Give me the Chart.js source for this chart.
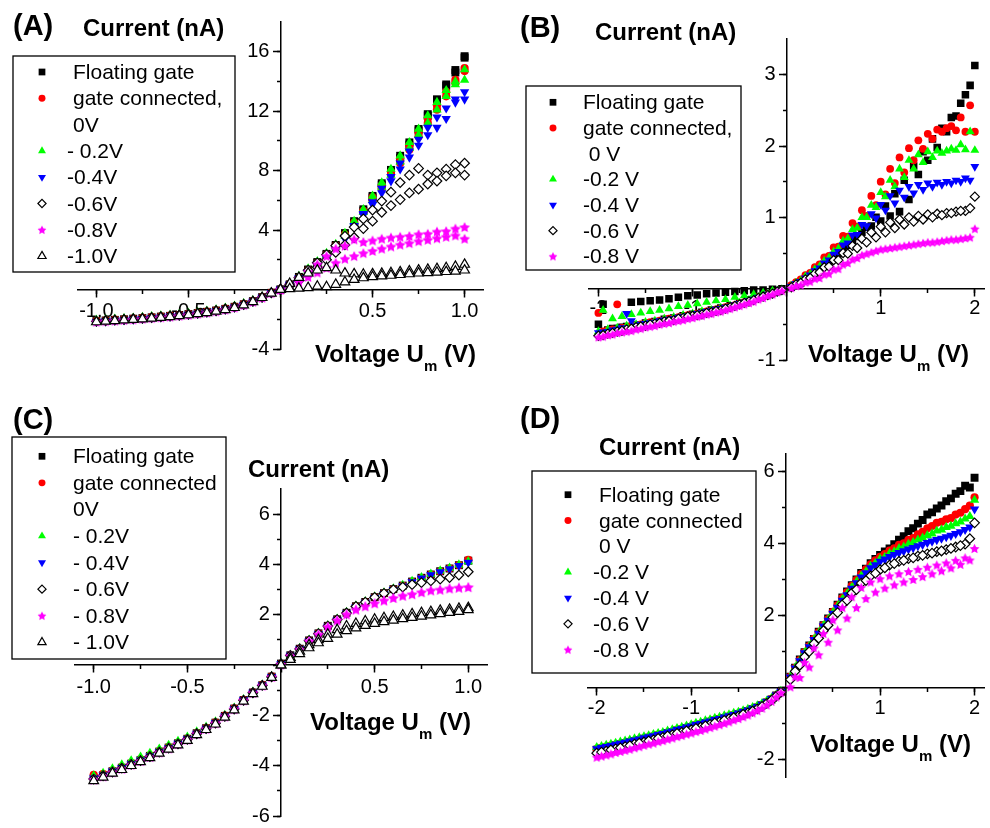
<!DOCTYPE html>
<html>
<head>
<meta charset="utf-8">
<title>Current-voltage curves, panels A-D</title>
<script src="https://cdn.jsdelivr.net/npm/chart.js"></script>
<style>
  html, body { margin: 0; padding: 0; background: #ffffff; overflow: hidden; }
  #wrap { position: relative; width: 990px; height: 828px; }
  #wrap canvas { position: absolute; left: 0; top: 0; }
</style>
</head>
<body>
<div id="wrap">
  <canvas id="panelA" width="990" height="828"></canvas>
  <canvas id="panelB" width="990" height="828"></canvas>
  <canvas id="panelC" width="990" height="828"></canvas>
  <canvas id="panelD" width="990" height="828"></canvas>
</div>
<script>
// ---- voltages (V) ----
const voltsAC_neg = [-1.0, -0.95, -0.9, -0.85, -0.8, -0.75, -0.7, -0.65, -0.6, -0.55, -0.5, -0.45, -0.4, -0.35, -0.3, -0.25, -0.2, -0.15, -0.1, -0.05]
const voltsAC_pos = [0, 0.05, 0.1, 0.15, 0.2, 0.25, 0.3, 0.35, 0.4, 0.45, 0.5, 0.55, 0.6, 0.65, 0.7, 0.75, 0.8, 0.85, 0.9, 0.95, 1.0]
const voltsBD_p1 = [0.1, 0.2, 0.3, 0.4, 0.5, 0.6, 0.7, 0.8, 0.9, 1.0, 1.1, 1.2, 1.3, 1.4, 1.5, 1.6, 1.7, 1.8, 1.9, 2.0]
const voltsBD_p2 = [0.05, 0.15, 0.25, 0.35, 0.45, 0.55, 0.65, 0.75, 0.85, 0.95, 1.05, 1.15, 1.25, 1.35, 1.45, 1.55, 1.65, 1.75, 1.85, 1.95]
const voltsBD_n1 = [-2.0, -1.9, -1.8, -1.7, -1.6, -1.5, -1.4, -1.3, -1.2, -1.1, -1.0, -0.9, -0.8, -0.7, -0.6, -0.5, -0.4, -0.3, -0.2, -0.1]
const voltsBD_n2 = [-1.95, -1.85, -1.75, -1.65, -1.55, -1.45, -1.35, -1.25, -1.15, -1.05, -0.95, -0.85, -0.75, -0.65, -0.55, -0.45, -0.35, -0.25, -0.15, -0.05]

// ---- panel A currents (nA) ----
const A_float_neg = [-2.12, -2.08, -2.04, -2.0, -1.96, -1.92, -1.87, -1.82, -1.77, -1.71, -1.65, -1.58, -1.5, -1.41, -1.3, -1.16, -0.99, -0.78, -0.51, -0.22]
const A_float_up = [0, 0.35, 0.85, 1.35, 1.85, 2.4, 3.0, 3.8, 4.6, 5.4, 6.3, 7.15, 8.05, 9.0, 9.9, 10.8, 11.8, 12.8, 13.8, 14.77, 15.7]
const A_float_down = [0, 0.3, 0.8, 1.3, 1.8, 2.35, 2.95, 3.7, 4.5, 5.3, 6.2, 7.05, 7.95, 8.85, 9.75, 10.7, 11.7, 12.7, 13.7, 14.6, 15.6]
const A_conn_neg = [-2.1, -2.07, -2.03, -1.99, -1.95, -1.91, -1.86, -1.81, -1.76, -1.7, -1.64, -1.57, -1.49, -1.4, -1.29, -1.15, -0.98, -0.77, -0.5, -0.21]
const A_conn_up = [0, 0.35, 0.8, 1.3, 1.8, 2.35, 2.95, 3.7, 4.5, 5.3, 6.2, 7.0, 7.9, 8.8, 9.7, 10.6, 11.5, 12.4, 13.3, 14.1, 14.9]
const A_conn_down = [0, 0.3, 0.75, 1.25, 1.75, 2.3, 2.9, 3.6, 4.4, 5.2, 6.0, 6.8, 7.7, 8.5, 9.4, 10.3, 11.2, 12.1, 13.0, 13.9, 14.7]
const A_g02_neg = [-2.05, -2.02, -1.98, -1.94, -1.9, -1.86, -1.81, -1.76, -1.71, -1.65, -1.59, -1.52, -1.44, -1.35, -1.24, -1.1, -0.94, -0.73, -0.47, -0.19]
const A_g02_up = [0, 0.4, 0.9, 1.4, 1.9, 2.45, 3.05, 3.8, 4.6, 5.4, 6.3, 7.2, 8.1, 9.0, 9.9, 10.8, 11.7, 12.6, 13.4, 14.0, 14.8]
const A_g02_down = [0, 0.3, 0.8, 1.3, 1.8, 2.3, 2.9, 3.6, 4.4, 5.2, 6.0, 6.9, 7.7, 8.6, 9.5, 10.4, 11.2, 12.1, 13.0, 13.8, 14.1]
const A_b04_neg = [-2.16, -2.12, -2.08, -2.04, -2.0, -1.96, -1.91, -1.86, -1.8, -1.74, -1.68, -1.61, -1.53, -1.44, -1.33, -1.19, -1.02, -0.8, -0.53, -0.23]
const A_b04_up = [0, 0.35, 0.8, 1.2, 1.7, 2.2, 2.8, 3.5, 4.3, 5.1, 5.9, 6.8, 7.6, 8.5, 9.3, 10.1, 10.9, 11.6, 12.2, 12.8, 13.3]
const A_b04_down = [0, 0.3, 0.7, 1.1, 1.6, 2.1, 2.7, 3.4, 4.2, 5.0, 5.7, 6.5, 7.3, 8.1, 8.9, 9.7, 10.4, 10.9, 11.5, 12.6, 12.8]
const A_d06_neg = [-2.14, -2.1, -2.06, -2.02, -1.98, -1.94, -1.89, -1.84, -1.79, -1.73, -1.67, -1.6, -1.52, -1.43, -1.32, -1.18, -1.01, -0.8, -0.53, -0.23]
const A_d06_up = [0, 0.35, 0.8, 1.3, 1.8, 2.35, 2.95, 3.6, 4.2, 4.75, 5.35, 5.95, 6.55, 7.2, 7.7, 8.15, 7.7, 7.85, 8.1, 8.4, 8.5]
const A_d06_down = [0, 0.25, 0.6, 1.0, 1.5, 2.0, 2.5, 3.0, 3.5, 4.1, 4.6, 5.2, 5.65, 6.05, 6.5, 6.75, 7.1, 7.3, 7.65, 7.85, 7.7]
const A_s08_neg = [-2.17, -2.13, -2.09, -2.05, -2.01, -1.97, -1.92, -1.87, -1.82, -1.76, -1.7, -1.63, -1.55, -1.46, -1.35, -1.21, -1.04, -0.82, -0.55, -0.24]
const A_s08_up = [0, 0.3, 0.75, 1.2, 1.7, 2.25, 2.75, 2.95, 3.37, 3.2, 3.3, 3.42, 3.5, 3.55, 3.6, 3.72, 3.75, 3.9, 3.93, 4.1, 4.2]
const A_s08_down = [0, 0.2, 0.5, 0.85, 1.15, 1.46, 1.8, 2.07, 2.25, 2.45, 2.6, 2.75, 2.9, 3.02, 3.12, 3.25, 3.35, 3.45, 3.55, 3.64, 3.42]
const A_t10_neg = [-2.18, -2.14, -2.1, -2.06, -2.02, -1.98, -1.93, -1.88, -1.83, -1.77, -1.71, -1.64, -1.56, -1.47, -1.36, -1.22, -1.05, -0.83, -0.55, -0.25]
const A_t10_up = [0, 0.4, 0.8, 1.1, 1.3, 1.46, 1.3, 1.1, 1.05, 1.02, 1.05, 1.08, 1.12, 1.18, 1.24, 1.3, 1.35, 1.4, 1.46, 1.55, 1.69]
const A_t10_down = [0, 0.05, 0.08, 0.12, 0.22, 0.18, 0.34, 0.5, 0.67, 0.78, 0.85, 0.9, 0.95, 1.0, 1.05, 1.1, 1.13, 1.16, 1.2, 1.22, 1.3]

// ---- panel B currents (nA) ----
const B_float_p1 = [0.05, 0.12, 0.21, 0.32, 0.44, 0.56, 0.68, 0.79, 0.88, 0.95, 1.02, 1.08, 1.25, 1.6, 1.8, 1.98, 2.2, 2.42, 2.72, 3.13]
const B_float_p2 = [0.02, 0.08, 0.16, 0.26, 0.37, 0.49, 0.61, 0.73, 0.86, 1.0, 1.16, 1.33, 1.52, 1.72, 1.92, 2.1, 2.25, 2.4, 2.6, 2.85]
const B_float_n1 = [-0.5, -0.58, -0.56, -0.53, -0.51, -0.48, -0.46, -0.43, -0.41, -0.38, -0.36, -0.33, -0.3, -0.27, -0.24, -0.2, -0.16, -0.12, -0.08, -0.04]
const B_float_n2 = [-0.22, -0.56, -0.54, -0.19, -0.18, -0.17, -0.16, -0.14, -0.12, -0.1, -0.09, -0.07, -0.06, -0.05, -0.04, -0.03, -0.02, -0.02, -0.01, 0.0]
const B_conn_p1 = [0.09, 0.19, 0.3, 0.44, 0.58, 0.74, 0.92, 1.1, 1.3, 1.5, 1.68, 1.84, 1.97, 2.08, 2.17, 2.23, 2.25, 2.22, 2.2, 2.2]
const B_conn_p2 = [0.05, 0.13, 0.22, 0.34, 0.46, 0.59, 0.73, 0.87, 1.02, 1.17, 1.32, 1.48, 1.63, 1.8, 1.96, 2.1, 2.2, 2.28, 2.4, 2.57]
const B_conn_n1 = [-0.34, -0.58, -0.22, -0.54, -0.52, -0.49, -0.47, -0.44, -0.42, -0.39, -0.37, -0.34, -0.31, -0.28, -0.25, -0.21, -0.17, -0.12, -0.08, -0.04]
const B_conn_n2 = [-0.6, -0.57, -0.55, -0.52, -0.5, -0.47, -0.45, -0.42, -0.4, -0.37, -0.35, -0.32, -0.29, -0.26, -0.23, -0.19, -0.15, -0.11, -0.07, -0.02]
const B_g02_p1 = [0.08, 0.17, 0.27, 0.39, 0.52, 0.67, 0.83, 1.0, 1.17, 1.35, 1.52, 1.68, 1.8, 1.88, 1.92, 1.93, 1.93, 1.94, 1.95, 1.94]
const B_g02_p2 = [0.04, 0.11, 0.2, 0.31, 0.43, 0.56, 0.7, 0.85, 1.0, 1.14, 1.29, 1.43, 1.56, 1.68, 1.77, 1.84, 1.9, 1.96, 2.02, 2.2]
const B_g02_n1 = [-0.6, -0.57, -0.55, -0.52, -0.5, -0.47, -0.45, -0.42, -0.4, -0.37, -0.35, -0.32, -0.3, -0.27, -0.24, -0.2, -0.16, -0.12, -0.08, -0.03]
const B_g02_n2 = [-0.3, -0.42, -0.39, -0.36, -0.34, -0.32, -0.3, -0.28, -0.25, -0.23, -0.21, -0.19, -0.17, -0.15, -0.12, -0.1, -0.08, -0.06, -0.03, -0.01]
const B_b04_p1 = [0.07, 0.15, 0.25, 0.36, 0.48, 0.61, 0.75, 0.9, 1.05, 1.18, 1.3, 1.38, 1.43, 1.46, 1.48, 1.49, 1.5, 1.52, 1.55, 1.71]
const B_b04_p2 = [0.03, 0.1, 0.19, 0.29, 0.4, 0.52, 0.64, 0.76, 0.88, 0.99, 1.1, 1.2, 1.28, 1.34, 1.39, 1.43, 1.46, 1.48, 1.5, 1.52]
const B_b04_n1 = [-0.62, -0.6, -0.57, -0.35, -0.52, -0.49, -0.47, -0.44, -0.42, -0.39, -0.37, -0.34, -0.31, -0.28, -0.25, -0.21, -0.17, -0.12, -0.08, -0.04]
const B_b04_n2 = [-0.61, -0.58, -0.55, -0.45, -0.5, -0.48, -0.45, -0.43, -0.4, -0.38, -0.35, -0.32, -0.29, -0.26, -0.23, -0.19, -0.15, -0.11, -0.07, -0.02]
const B_d06_p1 = [0.06, 0.13, 0.21, 0.3, 0.4, 0.5, 0.6, 0.7, 0.79, 0.87, 0.93, 0.97, 1.0, 1.02, 1.04, 1.05, 1.06, 1.08, 1.09, 1.29]
const B_d06_p2 = [0.02, 0.08, 0.15, 0.23, 0.31, 0.4, 0.49, 0.57, 0.65, 0.72, 0.79, 0.85, 0.9, 0.94, 0.97, 1.0, 1.03, 1.06, 1.09, 1.13]
const B_d06_n1 = [-0.66, -0.63, -0.6, -0.57, -0.54, -0.52, -0.49, -0.46, -0.44, -0.41, -0.38, -0.36, -0.33, -0.3, -0.26, -0.22, -0.18, -0.13, -0.09, -0.04]
const B_d06_n2 = [-0.65, -0.62, -0.59, -0.56, -0.53, -0.5, -0.48, -0.45, -0.42, -0.39, -0.37, -0.34, -0.31, -0.28, -0.24, -0.2, -0.16, -0.11, -0.07, -0.02]
const B_s08_p1 = [0.04, 0.09, 0.14, 0.2, 0.27, 0.34, 0.41, 0.47, 0.51, 0.55, 0.57, 0.59, 0.61, 0.63, 0.65, 0.66, 0.68, 0.69, 0.71, 0.84]
const B_s08_p2 = [0.01, 0.05, 0.1, 0.15, 0.21, 0.28, 0.36, 0.43, 0.49, 0.53, 0.56, 0.58, 0.6, 0.62, 0.64, 0.65, 0.67, 0.69, 0.7, 0.72]
const B_s08_n1 = [-0.68, -0.65, -0.62, -0.6, -0.57, -0.54, -0.52, -0.49, -0.46, -0.44, -0.41, -0.38, -0.35, -0.32, -0.28, -0.24, -0.2, -0.15, -0.1, -0.05]
const B_s08_n2 = [-0.67, -0.64, -0.61, -0.59, -0.56, -0.53, -0.5, -0.48, -0.45, -0.42, -0.39, -0.36, -0.33, -0.3, -0.26, -0.22, -0.18, -0.13, -0.08, -0.03]

// ---- panel C currents (nA) ----
const C_float_neg = [-4.5, -4.38, -4.22, -4.08, -3.92, -3.77, -3.61, -3.44, -3.28, -3.11, -2.93, -2.71, -2.51, -2.29, -2.02, -1.73, -1.39, -1.09, -0.8, -0.46]
const C_float_pos = [0.06, 0.39, 0.65, 0.98, 1.26, 1.56, 1.82, 2.08, 2.34, 2.51, 2.7, 2.86, 3.02, 3.16, 3.32, 3.47, 3.6, 3.73, 3.84, 3.97, 4.15]
const C_conn_neg = [-4.36, -4.32, -4.2, -4.06, -3.9, -3.75, -3.59, -3.42, -3.26, -3.1, -2.92, -2.7, -2.5, -2.28, -2.01, -1.72, -1.38, -1.08, -0.79, -0.45]
const C_conn_pos = [0.05, 0.38, 0.65, 0.97, 1.26, 1.55, 1.81, 2.07, 2.33, 2.5, 2.69, 2.85, 3.01, 3.15, 3.31, 3.46, 3.6, 3.72, 3.84, 3.97, 4.18]
const C_g02_neg = [-4.4, -4.3, -4.12, -3.96, -3.8, -3.65, -3.5, -3.33, -3.18, -3.02, -2.86, -2.65, -2.46, -2.25, -1.99, -1.7, -1.36, -1.06, -0.78, -0.44]
const C_g02_pos = [0.06, 0.4, 0.67, 1.0, 1.28, 1.58, 1.84, 2.1, 2.36, 2.53, 2.72, 2.88, 3.04, 3.18, 3.34, 3.49, 3.62, 3.75, 3.86, 3.99, 4.12]
const C_b04_neg = [-4.5, -4.38, -4.22, -4.08, -3.93, -3.78, -3.62, -3.45, -3.29, -3.12, -2.94, -2.72, -2.52, -2.3, -2.03, -1.74, -1.39, -1.09, -0.8, -0.46]
const C_b04_pos = [0.05, 0.38, 0.64, 0.96, 1.24, 1.54, 1.8, 2.06, 2.32, 2.49, 2.68, 2.84, 3.0, 3.14, 3.3, 3.45, 3.58, 3.7, 3.82, 3.95, 4.08]
const C_d06_neg = [-4.53, -4.4, -4.25, -4.1, -3.95, -3.8, -3.64, -3.46, -3.3, -3.13, -2.95, -2.73, -2.53, -2.31, -2.04, -1.75, -1.4, -1.1, -0.81, -0.47]
const C_d06_pos = [0.05, 0.38, 0.64, 0.97, 1.25, 1.55, 1.81, 2.07, 2.33, 2.5, 2.69, 2.85, 3.0, 3.1, 3.2, 3.28, 3.35, 3.42, 3.48, 3.58, 3.71]
const C_s08_neg = [-4.55, -4.42, -4.26, -4.12, -3.96, -3.81, -3.65, -3.47, -3.31, -3.14, -2.96, -2.73, -2.53, -2.31, -2.04, -1.75, -1.4, -1.1, -0.81, -0.47]
const C_s08_pos = [0.03, 0.37, 0.62, 0.95, 1.22, 1.52, 1.78, 2.02, 2.21, 2.34, 2.46, 2.57, 2.67, 2.76, 2.82, 2.9, 2.97, 3.0, 3.05, 3.08, 3.1]
const C_t10_neg = [-4.6, -4.46, -4.3, -4.16, -4.0, -3.85, -3.69, -3.51, -3.35, -3.18, -3.0, -2.77, -2.57, -2.35, -2.08, -1.79, -1.44, -1.14, -0.85, -0.5]
const C_t10_pos = [0, 0.3, 0.55, 0.8, 1.0, 1.22, 1.4, 1.55, 1.65, 1.75, 1.82, 1.88, 1.93, 1.98, 2.03, 2.08, 2.12, 2.17, 2.21, 2.25, 2.28]
const C_t10_back = [0, 0.22, 0.45, 0.68, 0.88, 1.05, 1.22, 1.36, 1.47, 1.57, 1.65, 1.72, 1.78, 1.84, 1.89, 1.94, 1.99, 2.04, 2.09, 2.13, 2.2]

// ---- panel D currents (nA) ----
const D_float_p1 = [0.55, 0.98, 1.35, 1.73, 2.1, 2.5, 2.84, 3.18, 3.45, 3.68, 3.86, 4.1, 4.34, 4.55, 4.8, 4.97, 5.17, 5.38, 5.6, 5.82]
const D_float_p2 = [0.3, 0.78, 1.17, 1.55, 1.92, 2.3, 2.67, 3.0, 3.3, 3.57, 3.78, 3.98, 4.2, 4.42, 4.65, 4.86, 5.05, 5.25, 5.45, 5.55]
const D_float_n1 = [-1.72, -1.66, -1.6, -1.54, -1.48, -1.42, -1.36, -1.3, -1.23, -1.16, -1.09, -1.02, -0.95, -0.88, -0.81, -0.73, -0.65, -0.55, -0.41, -0.22]
const D_float_n2 = [-1.69, -1.63, -1.57, -1.51, -1.45, -1.39, -1.33, -1.26, -1.19, -1.12, -1.05, -0.98, -0.91, -0.84, -0.77, -0.69, -0.6, -0.49, -0.33, -0.12]
const D_conn_p1 = [0.55, 0.98, 1.35, 1.73, 2.1, 2.48, 2.82, 3.15, 3.42, 3.63, 3.8, 3.96, 4.1, 4.25, 4.42, 4.57, 4.67, 4.8, 4.95, 5.28]
const D_conn_p2 = [0.3, 0.76, 1.15, 1.53, 1.9, 2.28, 2.64, 2.98, 3.28, 3.53, 3.7, 3.86, 4.0, 4.15, 4.32, 4.48, 4.6, 4.7, 4.85, 5.05]
const D_conn_n1 = [-1.71, -1.65, -1.59, -1.53, -1.47, -1.41, -1.35, -1.29, -1.22, -1.15, -1.08, -1.01, -0.94, -0.87, -0.8, -0.72, -0.64, -0.54, -0.4, -0.22]
const D_conn_n2 = [-1.68, -1.62, -1.56, -1.5, -1.44, -1.38, -1.32, -1.25, -1.18, -1.11, -1.04, -0.97, -0.9, -0.83, -0.76, -0.68, -0.59, -0.48, -0.32, -0.12]
const D_g02_p1 = [0.55, 0.97, 1.34, 1.72, 2.08, 2.45, 2.78, 3.1, 3.37, 3.57, 3.72, 3.86, 3.98, 4.1, 4.22, 4.35, 4.45, 4.55, 4.68, 5.2]
const D_g02_p2 = [0.3, 0.75, 1.14, 1.52, 1.88, 2.25, 2.6, 2.93, 3.22, 3.45, 3.62, 3.77, 3.9, 4.03, 4.15, 4.27, 4.38, 4.48, 4.6, 4.75]
const D_g02_n1 = [-1.66, -1.6, -1.54, -1.48, -1.42, -1.36, -1.3, -1.24, -1.17, -1.1, -1.03, -0.96, -0.89, -0.82, -0.75, -0.68, -0.6, -0.5, -0.37, -0.2]
const D_g02_n2 = [-1.63, -1.57, -1.51, -1.45, -1.39, -1.33, -1.27, -1.2, -1.13, -1.06, -0.99, -0.92, -0.85, -0.78, -0.71, -0.64, -0.55, -0.44, -0.29, -0.1]
const D_b04_p1 = [0.54, 0.96, 1.33, 1.7, 2.06, 2.42, 2.75, 3.06, 3.32, 3.5, 3.63, 3.74, 3.84, 3.93, 4.02, 4.1, 4.18, 4.27, 4.38, 4.95]
const D_b04_p2 = [0.29, 0.74, 1.13, 1.5, 1.86, 2.22, 2.57, 2.9, 3.18, 3.4, 3.56, 3.69, 3.79, 3.88, 3.97, 4.06, 4.14, 4.22, 4.32, 4.45]
const D_b04_n1 = [-1.7, -1.64, -1.58, -1.52, -1.46, -1.4, -1.34, -1.28, -1.21, -1.14, -1.07, -1.0, -0.93, -0.86, -0.79, -0.71, -0.63, -0.53, -0.39, -0.21]
const D_b04_n2 = [-1.67, -1.61, -1.55, -1.49, -1.43, -1.37, -1.31, -1.24, -1.17, -1.1, -1.03, -0.96, -0.89, -0.82, -0.75, -0.67, -0.58, -0.47, -0.31, -0.11]
const D_d06_p1 = [0.45, 0.85, 1.22, 1.58, 1.95, 2.3, 2.62, 2.9, 3.1, 3.27, 3.4, 3.5, 3.58, 3.65, 3.71, 3.77, 3.83, 3.9, 3.98, 4.57]
const D_d06_p2 = [0.22, 0.62, 1.0, 1.37, 1.73, 2.08, 2.42, 2.72, 2.97, 3.17, 3.32, 3.44, 3.53, 3.6, 3.67, 3.73, 3.79, 3.86, 3.94, 4.13]
const D_d06_n1 = [-1.82, -1.76, -1.7, -1.64, -1.57, -1.51, -1.45, -1.38, -1.31, -1.24, -1.17, -1.1, -1.02, -0.95, -0.87, -0.79, -0.7, -0.59, -0.44, -0.24]
const D_d06_n2 = [-1.79, -1.73, -1.67, -1.61, -1.54, -1.48, -1.41, -1.34, -1.27, -1.2, -1.13, -1.06, -0.98, -0.91, -0.83, -0.74, -0.65, -0.52, -0.35, -0.13]
const D_s08_p1 = [0.3, 0.7, 1.1, 1.5, 1.88, 2.22, 2.52, 2.78, 2.93, 3.02, 3.1, 3.16, 3.22, 3.28, 3.34, 3.4, 3.46, 3.53, 3.6, 3.86]
const D_s08_p2 = [0.02, 0.28, 0.57, 0.91, 1.26, 1.6, 1.93, 2.22, 2.47, 2.65, 2.76, 2.85, 2.93, 3.0, 3.08, 3.16, 3.24, 3.32, 3.42, 3.54]
const D_s08_n1 = [-1.93, -1.87, -1.8, -1.74, -1.67, -1.6, -1.54, -1.47, -1.4, -1.33, -1.26, -1.19, -1.11, -1.03, -0.95, -0.86, -0.76, -0.64, -0.48, -0.26]
const D_s08_n2 = [-1.9, -1.84, -1.77, -1.71, -1.64, -1.57, -1.5, -1.43, -1.36, -1.29, -1.22, -1.15, -1.07, -0.99, -0.9, -0.81, -0.7, -0.57, -0.38, -0.14]

// ---- legends ----
const legendA = ['Floating gate', 'gate connected,', '0V', '- 0.2V', '-0.4V', '-0.6V', '-0.8V', '-1.0V']
const legendB = ['Floating gate', 'gate connected,', ' 0 V', '-0.2 V', '-0.4 V', '-0.6 V', '-0.8 V']
const legendC = ['Floating gate', 'gate connected', '0V', '- 0.2V', '- 0.4V', '- 0.6V', '- 0.8V', '- 1.0V']
const legendD = ['Floating gate', 'gate connected', '0 V', '-0.2 V', '-0.4 V', '-0.6 V', '-0.8 V']
const marksA = [0, 1, null, 2, 3, 4, 5, 6]
const marksB = [0, 1, null, 2, 3, 4, 5]

// ---- ticks ----
const xTicksAC = [-1.0, -0.5, 0, 0.5, 1.0]
const xMinorAC = [-1.0, -0.75, -0.5, -0.25, 0, 0.25, 0.5, 0.75, 1.0]
const xLabelsAC = ['-1.0', '-0.5', '0.5', '1.0']
const xTicksBD = [-2, -1, 0, 1, 2]
const xMinorBD = [-2, -1.5, -1, -0.5, 0, 0.5, 1, 1.5, 2]
const xLabelsBD = ['-2', '-1', '1', '2']
const yTicksA = [-4, 0, 4, 8, 12, 16]
const yMinorA = [-4, -2, 0, 2, 4, 6, 8, 10, 12, 14, 16]
const yLabelsA = ['-4', '4', '8', '12', '16']
const yTicksB = [-1, 0, 1, 2, 3]
const yMinorB = [-1, -0.5, 0, 0.5, 1, 1.5, 2, 2.5, 3]
const yLabelsB = ['-1', '1', '2', '3']
const yTicksC = [-6, -4, -2, 0, 2, 4, 6]
const yMinorC = [-6, -5, -4, -3, -2, -1, 0, 1, 2, 3, 4, 5, 6]
const yLabelsC = ['-6', '-4', '-2', '2', '4', '6']
const yTicksD = [-2, 0, 2, 4, 6]
const yMinorD = [-2, -1, 0, 1, 2, 3, 4, 5, 6]
const yLabelsD = ['-2', '2', '4', '6']

const FONT = "'Liberation Sans', Arial, Helvetica, sans-serif"
Chart.defaults.font.family = FONT
Chart.defaults.color = '#000'

function starImage(r) {
  const c = document.createElement('canvas')
  const s = Math.ceil(2 * r + 2)
  c.width = s
  c.height = s
  const g = c.getContext('2d')
  g.fillStyle = '#ff00ff'
  g.beginPath()
  for (let i = 0; i < 10; i++) {
    const rr = i % 2 ? r * 0.5 : r
    const a = -Math.PI / 2 + i * Math.PI / 5
    g.lineTo(s / 2 + rr * Math.cos(a), s / 2 + rr * Math.sin(a) + r * 0.1)
  }
  g.closePath()
  g.fill()
  return c
}

function markerSet(k, starR) {
  return [
    { style: 'rect', radius: 5.6 * k, fill: '#000000', line: '#000000', width: 0 },
    { style: 'circle', radius: 4.1 * k, fill: '#ff0000', line: '#ff0000', width: 0 },
    { style: 'triangle', radius: 5.4 * k, fill: '#00ff00', line: '#00ff00', width: 0 },
    { style: 'triangle', rotation: 180, radius: 5.4 * k, fill: '#0000ff', line: '#0000ff', width: 0 },
    { style: 'rectRot', radius: 4.8 * k, fill: '#ffffff', line: '#000000', width: 1.2 },
    { style: starImage(starR), radius: 4.5, fill: '#ff00ff', line: '#ff00ff', width: 0 },
    { style: 'triangle', radius: 5.6 * k, fill: '#ffffff', line: '#000000', width: 1.2 }
  ]
}

function series(marks, idx, parts) {
  const mk = marks[idx]
  const data = []
  for (let i = 0; i < parts.length; i += 2) {
    parts[i].forEach((x, j) => data.push({ x: x, y: parts[i + 1][j] }))
  }
  return {
    data: data,
    xAxisID: 'x',
    yAxisID: 'y',
    order: 10 - idx,
    showLine: false,
    pointStyle: mk.style,
    pointRotation: mk.rotation || 0,
    pointRadius: mk.radius,
    pointHoverRadius: mk.radius,
    pointBackgroundColor: mk.fill,
    pointBorderColor: mk.line,
    pointBorderWidth: mk.width,
    backgroundColor: mk.fill,
    borderColor: mk.line
  }
}

function pickLabel(list, v, pad) {
  const hit = list.find(s => Math.abs(parseFloat(s) - v) < 1e-6)
  return hit === undefined ? '' : hit + pad
}

function makeScales(ax) {
  const fixTicks = list => function (scale) { scale.ticks = list.map(v => ({ value: v })) }
  return {
    x: {
      type: 'linear', min: ax.xMin, max: ax.xMax, position: { y: 0 },
      afterBuildTicks: fixTicks(ax.xTicks),
      border: { display: true, color: '#000', width: 1.5 },
      grid: { display: true, drawOnChartArea: false, drawTicks: true, tickLength: 7, tickWidth: 1.5, tickColor: '#000' },
      ticks: { autoSkip: false, maxRotation: 0, padding: ax.xPad, color: '#000', font: { size: 20 },
        callback: v => pickLabel(ax.xLabels, v, '') }
    },
    xMinor: {
      type: 'linear', axis: 'x', min: ax.xMin, max: ax.xMax, position: { y: 0 },
      afterBuildTicks: fixTicks(ax.xMinor),
      border: { display: false },
      grid: { display: true, drawOnChartArea: false, drawTicks: true, tickLength: 4, tickWidth: 1.5, tickColor: '#000' },
      ticks: { display: false, autoSkip: false }
    },
    y: {
      type: 'linear', min: ax.yMin, max: ax.yMax, position: { x: 0 },
      afterBuildTicks: fixTicks(ax.yTicks),
      border: { display: true, color: '#000', width: 1.5 },
      grid: { display: true, drawOnChartArea: false, drawTicks: true, tickLength: 7, tickWidth: 1.5, tickColor: '#000' },
      ticks: { autoSkip: false, padding: 0, color: '#000', font: { size: 20 },
        callback: v => pickLabel(ax.yLabels, v, '  ') }
    },
    yMinor: {
      type: 'linear', axis: 'y', min: ax.yMin, max: ax.yMax, position: { x: 0 },
      afterBuildTicks: fixTicks(ax.yMinor),
      border: { display: false },
      grid: { display: true, drawOnChartArea: false, drawTicks: true, tickLength: 4, tickWidth: 1.5, tickColor: '#000' },
      ticks: { display: false, autoSkip: false }
    }
  }
}

function drawMarker(ctx, mk, x, y) {
  ctx.save()
  ctx.fillStyle = mk.fill
  ctx.strokeStyle = mk.line
  ctx.lineWidth = mk.width
  Chart.helpers.drawPoint(ctx, { pointStyle: mk.style, rotation: mk.rotation || 0, radius: mk.radius, borderWidth: mk.width }, x, y)
  ctx.restore()
}

function drawDecor(ctx, d) {
  ctx.save()
  ctx.fillStyle = '#000'
  ctx.textAlign = 'left'
  ctx.textBaseline = 'alphabetic'
  ctx.font = 'bold 29px ' + FONT
  ctx.fillText(d.tag, d.tagX, d.tagY)
  ctx.font = 'bold 24px ' + FONT
  ctx.fillText('Current (nA)', d.yTitleX, d.yTitleY)
  let x = d.xTitleX
  ctx.fillText('Voltage U', x, d.xTitleY)
  x += ctx.measureText('Voltage U').width
  ctx.font = 'bold 15px ' + FONT
  ctx.fillText('m', x, d.xTitleY + 9)
  x += ctx.measureText('m').width
  ctx.font = 'bold 24px ' + FONT
  ctx.fillText(' (V)', x, d.xTitleY)

  const b = d.box
  ctx.fillStyle = '#fff'
  ctx.fillRect(b[0], b[1], b[2], b[3])
  ctx.strokeStyle = '#000'
  ctx.lineWidth = 1.3
  ctx.strokeRect(b[0], b[1], b[2], b[3])
  ctx.font = '21px ' + FONT
  d.labels.forEach((text, i) => {
    const y = d.rowY0 + i * d.rowStep
    ctx.fillStyle = '#000'
    ctx.fillText(text, d.textX[i], y)
    const m = d.rowMarks[i]
    if (m !== null) drawMarker(ctx, d.legendMarks[m], d.symX, y - 7)
  })
  ctx.restore()
}

function buildPanel(id, datasets, ax, pad, decor) {
  new Chart(document.getElementById(id), {
    type: 'scatter',
    data: { datasets: datasets },
    options: {
      responsive: false,
      animation: false,
      devicePixelRatio: 1,
      layout: { padding: pad },
      plugins: { legend: { display: false }, tooltip: { enabled: false } },
      scales: makeScales(ax)
    },
    plugins: [{ id: 'decor' + id, afterDraw: chart => drawDecor(chart.ctx, decor) }]
  })
}

// ---- Panel A ----
const mA = markerSet(1, 5.6)
buildPanel('panelA', [
  series(mA, 0, [voltsAC_neg, A_float_neg, voltsAC_pos, A_float_up, voltsAC_pos, A_float_down]),
  series(mA, 1, [voltsAC_neg, A_conn_neg, voltsAC_pos, A_conn_up, voltsAC_pos, A_conn_down]),
  series(mA, 2, [voltsAC_neg, A_g02_neg, voltsAC_pos, A_g02_up, voltsAC_pos, A_g02_down]),
  series(mA, 3, [voltsAC_neg, A_b04_neg, voltsAC_pos, A_b04_up, voltsAC_pos, A_b04_down]),
  series(mA, 4, [voltsAC_neg, A_d06_neg, voltsAC_pos, A_d06_up, voltsAC_pos, A_d06_down]),
  series(mA, 5, [voltsAC_neg, A_s08_neg, voltsAC_pos, A_s08_up, voltsAC_pos, A_s08_down]),
  series(mA, 6, [voltsAC_neg, A_t10_neg, voltsAC_pos, A_t10_up, voltsAC_pos, A_t10_down])
], {
  xMin: -1.1, xMax: 1.1, xTicks: xTicksAC, xMinor: xMinorAC, xLabels: xLabelsAC, xPad: 3,
  yMin: -4, yMax: 18, yTicks: yTicksA, yMinor: yMinorA, yLabels: yLabelsA
}, { left: 78, right: 507, top: 22, bottom: 479 }, {
  tag: '(A)', tagX: 13, tagY: 35, yTitleX: 83, yTitleY: 36, xTitleX: 315, xTitleY: 362,
  box: [13, 56, 222, 216], symX: 42, rowY0: 79, rowStep: 26.3,
  textX: [73, 73, 73, 67, 67, 67, 67, 67], labels: legendA, rowMarks: marksA, legendMarks: markerSet(0.85, 4.6)
})

// ---- Panel B ----
const mB = markerSet(0.95, 5)
buildPanel('panelB', [
  series(mB, 0, [voltsBD_n1, B_float_n1, voltsBD_n2, B_float_n2, voltsBD_p1, B_float_p1, voltsBD_p2, B_float_p2]),
  series(mB, 1, [voltsBD_n1, B_conn_n1, voltsBD_n2, B_conn_n2, voltsBD_p1, B_conn_p1, voltsBD_p2, B_conn_p2]),
  series(mB, 2, [voltsBD_n1, B_g02_n1, voltsBD_n2, B_g02_n2, voltsBD_p1, B_g02_p1, voltsBD_p2, B_g02_p2]),
  series(mB, 3, [voltsBD_n1, B_b04_n1, voltsBD_n2, B_b04_n2, voltsBD_p1, B_b04_p1, voltsBD_p2, B_b04_p2]),
  series(mB, 4, [voltsBD_n1, B_d06_n1, voltsBD_n2, B_d06_n2, voltsBD_p1, B_d06_p1, voltsBD_p2, B_d06_p2]),
  series(mB, 5, [voltsBD_n1, B_s08_n1, voltsBD_n2, B_s08_n2, voltsBD_p1, B_s08_p1, voltsBD_p2, B_s08_p2])
], {
  xMin: -2.1, xMax: 2.1, xTicks: xTicksBD, xMinor: xMinorBD, xLabels: xLabelsBD, xPad: 1,
  yMin: -1, yMax: 3.5, yTicks: yTicksB, yMinor: yMinorB, yLabels: yLabelsB
}, { left: 589, right: 5, top: 39, bottom: 468 }, {
  tag: '(B)', tagX: 520, tagY: 37, yTitleX: 595, yTitleY: 40, xTitleX: 808, xTitleY: 362,
  box: [526, 86, 215, 184], symX: 553, rowY0: 109.3, rowStep: 25.67,
  textX: [583, 583, 583, 583, 583, 583, 583], labels: legendB, rowMarks: marksB, legendMarks: markerSet(0.85, 4.6)
})

// ---- Panel C ----
const mC = markerSet(1, 5.8)
buildPanel('panelC', [
  series(mC, 0, [voltsAC_neg, C_float_neg, voltsAC_pos, C_float_pos]),
  series(mC, 1, [voltsAC_neg, C_conn_neg, voltsAC_pos, C_conn_pos]),
  series(mC, 2, [voltsAC_neg, C_g02_neg, voltsAC_pos, C_g02_pos]),
  series(mC, 3, [voltsAC_neg, C_b04_neg, voltsAC_pos, C_b04_pos]),
  series(mC, 4, [voltsAC_neg, C_d06_neg, voltsAC_pos, C_d06_pos]),
  series(mC, 5, [voltsAC_neg, C_s08_neg, voltsAC_pos, C_s08_pos]),
  series(mC, 6, [voltsAC_neg, C_t10_neg, voltsAC_pos, C_t10_pos, voltsAC_pos, C_t10_back])
], {
  xMin: -1.1, xMax: 1.1, xTicks: xTicksAC, xMinor: xMinorAC, xLabels: xLabelsAC, xPad: 3,
  yMin: -6, yMax: 7, yTicks: yTicksC, yMinor: yMinorC, yLabels: yLabelsC
}, { left: 75, right: 503, top: 489, bottom: 6.3 }, {
  tag: '(C)', tagX: 13, tagY: 429, yTitleX: 248, yTitleY: 477, xTitleX: 310, xTitleY: 730,
  box: [12, 437, 214, 222], symX: 42, rowY0: 463.3, rowStep: 26.57,
  textX: [73, 73, 73, 73, 73, 73, 73, 73], labels: legendC, rowMarks: marksA, legendMarks: markerSet(0.85, 4.6)
})

// ---- Panel D ----
const mD = markerSet(1, 5.2)
buildPanel('panelD', [
  series(mD, 0, [voltsBD_n1, D_float_n1, voltsBD_n2, D_float_n2, voltsBD_p1, D_float_p1, voltsBD_p2, D_float_p2]),
  series(mD, 1, [voltsBD_n1, D_conn_n1, voltsBD_n2, D_conn_n2, voltsBD_p1, D_conn_p1, voltsBD_p2, D_conn_p2]),
  series(mD, 2, [voltsBD_n1, D_g02_n1, voltsBD_n2, D_g02_n2, voltsBD_p1, D_g02_p1, voltsBD_p2, D_g02_p2]),
  series(mD, 3, [voltsBD_n1, D_b04_n1, voltsBD_n2, D_b04_n2, voltsBD_p1, D_b04_p1, voltsBD_p2, D_b04_p2]),
  series(mD, 4, [voltsBD_n1, D_d06_n1, voltsBD_n2, D_d06_n2, voltsBD_p1, D_d06_p1, voltsBD_p2, D_d06_p2]),
  series(mD, 5, [voltsBD_n1, D_s08_n1, voltsBD_n2, D_s08_n2, voltsBD_p1, D_s08_p1, voltsBD_p2, D_s08_p2])
], {
  xMin: -2.1, xMax: 2.1, xTicks: xTicksBD, xMinor: xMinorBD, xLabels: xLabelsBD, xPad: 2,
  yMin: -2.5, yMax: 6.5, yTicks: yTicksD, yMinor: yMinorD, yLabels: yLabelsD
}, { left: 587.3, right: 2.7, top: 453.3, bottom: 50.3 }, {
  tag: '(D)', tagX: 520, tagY: 428, yTitleX: 599, yTitleY: 455, xTitleX: 810, xTitleY: 752,
  box: [532, 471, 224, 202], symX: 568, rowY0: 501.7, rowStep: 25.83,
  textX: [599, 599, 599, 593, 593, 593, 593], labels: legendD, rowMarks: marksB, legendMarks: markerSet(0.85, 4.6)
})
</script>
</body>
</html>
